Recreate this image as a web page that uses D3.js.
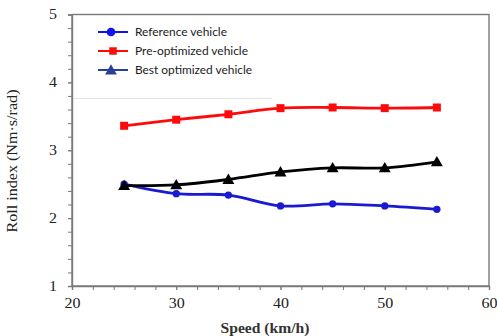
<!DOCTYPE html>
<html>
<head>
<meta charset="utf-8">
<script src="https://cdn.jsdelivr.net/npm/d3@7"></script>
<style>
  html, body { margin: 0; padding: 0; background: #fff; }
  svg { display: block; }
</style>
</head>
<body>
<script>
// Roll index against speed for three vehicle configurations
const speeds = [25, 30, 35, 40, 45, 50, 55];
const referenceVehicle = [2.50, 2.36, 2.34, 2.18, 2.21, 2.18, 2.13];
const preOptimized = [3.36, 3.45, 3.53, 3.62, 3.63, 3.62, 3.63];
const bestOptimized = [2.48, 2.49, 2.57, 2.68, 2.74, 2.74, 2.83];

const seriesNames = ["Reference vehicle", "Pre-optimized vehicle", "Best optimized vehicle"];
const xTicks = [20, 30, 40, 50, 60];
const yTicks = [1, 2, 3, 4, 5];

const W = 497, H = 336;
const svg = d3.select("body").append("svg").attr("width", W).attr("height", H);
svg.append("rect").attr("width", W).attr("height", H).attr("fill", "#fff");

const x = d3.scaleLinear().domain([20, 60]).range([72, 489]);
const y = d3.scaleLinear().domain([1, 5]).range([286, 14.5]);

const frameColor = "#7a7a7a";
const serif = "'Liberation Serif', 'Times New Roman', serif";

// plot frame
svg.append("rect")
  .attr("x", x(20)).attr("y", y(5))
  .attr("width", x(60) - x(20)).attr("height", y(1) - y(5))
  .attr("fill", "none").attr("stroke", frameColor).attr("stroke-width", 1.4);

// legend area: only its lower edge shows, as a faint rule
svg.append("line")
  .attr("x1", x(20)).attr("x2", x(20) + 200).attr("y1", y(5) + 84).attr("y2", y(5) + 84)
  .attr("stroke", "#e4e4e4").attr("stroke-width", 1);

// minor ticks
const xMinor = d3.range(20, 60.01, 2);
const yMinor = d3.range(1, 5.01, 0.2);
svg.append("g").attr("transform", `translate(0,${y(1)})`)
  .call(d3.axisBottom(x).tickValues(xMinor).tickSize(4).tickFormat(""))
  .call(g => g.select(".domain").remove())
  .call(g => g.selectAll("line").attr("stroke", frameColor));
svg.append("g").attr("transform", `translate(${x(20)},0)`)
  .call(d3.axisLeft(y).tickValues(yMinor).tickSize(4).tickFormat(""))
  .call(g => g.select(".domain").remove())
  .call(g => g.selectAll("line").attr("stroke", frameColor));

// major ticks and labels
const xAxis = svg.append("g").attr("transform", `translate(0,${y(1)})`)
  .call(d3.axisBottom(x).tickValues(xTicks).tickSize(4).tickPadding(8).tickFormat(d3.format("d")));
xAxis.select(".domain").attr("stroke", frameColor).attr("stroke-width", 1.4);
xAxis.selectAll("line").attr("stroke", frameColor);
xAxis.selectAll("text")
  .attr("font-family", serif).attr("font-size", 14).attr("fill", "#222")
  .attr("textLength", 16).attr("lengthAdjust", "spacingAndGlyphs");

const yAxis = svg.append("g").attr("transform", `translate(${x(20)},0)`)
  .call(d3.axisLeft(y).tickValues(yTicks).tickSize(4).tickPadding(11).tickFormat(d3.format("d")));
yAxis.select(".domain").attr("stroke", frameColor).attr("stroke-width", 1.4);
yAxis.selectAll("line").attr("stroke", frameColor);
yAxis.selectAll("text")
  .attr("font-family", serif).attr("font-size", 14).attr("fill", "#222")
  .attr("textLength", 8).attr("lengthAdjust", "spacingAndGlyphs");

// axis titles
svg.append("text")
  .attr("x", 265).attr("y", 333)
  .attr("text-anchor", "middle")
  .attr("font-family", serif).attr("font-size", 14).attr("font-weight", "bold")
  .attr("fill", "#333")
  .attr("textLength", 89).attr("lengthAdjust", "spacingAndGlyphs")
  .text("Speed (km/h)");

svg.append("text")
  .attr("transform", "translate(17,161) rotate(-90)")
  .attr("text-anchor", "middle")
  .attr("font-family", serif).attr("font-size", 15)
  .attr("fill", "#222")
  .attr("textLength", 143).attr("lengthAdjust", "spacingAndGlyphs")
  .text("Roll index (Nm·s/rad)");

// series
const blue = "#1a1ad2", red = "#ff0a0a", black = "#000", navy = "#2a3f9a";
const series = [
  { name: seriesNames[0], values: referenceVehicle, color: blue, marker: "circle", legendColor: "#1212ee" },
  { name: seriesNames[1], values: preOptimized, color: red, marker: "square", legendColor: red },
  { name: seriesNames[2], values: bestOptimized, color: black, marker: "triangle", legendColor: navy }
];

const symbolFor = m => m === "circle" ? d3.symbolCircle : m === "square" ? d3.symbolSquare : d3.symbolTriangle;
const sizeFor = m => m === "circle" ? 42 : m === "square" ? 64 : 62;

const line = d3.line()
  .x((d, i) => x(speeds[i]))
  .y(d => y(d))
  .curve(d3.curveCatmullRom.alpha(0.5));

series.forEach(s => {
  svg.append("path")
    .attr("d", line(s.values))
    .attr("fill", "none")
    .attr("stroke", s.color)
    .attr("stroke-width", 2.8)
    .attr("stroke-linejoin", "round");
  svg.append("g").selectAll("path")
    .data(s.values)
    .join("path")
    .attr("transform", (d, i) => `translate(${x(speeds[i])},${y(d) + (s.marker === "triangle" ? 1 : 0)})`)
    .attr("d", d3.symbol(symbolFor(s.marker), sizeFor(s.marker)))
    .attr("fill", s.color);
});

// legend entries
const legendRows = [32, 51, 70];
series.forEach((s, i) => {
  const ly = legendRows[i];
  svg.append("line")
    .attr("x1", 98).attr("x2", 128).attr("y1", ly).attr("y2", ly)
    .attr("stroke", s.legendColor).attr("stroke-width", 2);
  svg.append("path")
    .attr("transform", `translate(${s.marker === "square" ? 113 : 111},${ly + (s.marker === "triangle" ? 1 : 0)})`)
    .attr("d", d3.symbol(symbolFor(s.marker), s.marker === "circle" ? 60 : s.marker === "square" ? 56 : 60))
    .attr("fill", s.legendColor);
  svg.append("text")
    .attr("x", 135).attr("y", ly + 4)
    .attr("font-family", "Lato, 'Open Sans', sans-serif")
    .attr("font-size", 12)
    .attr("fill", "#222")
    .attr("textLength", [92, 113, 117][i]).attr("lengthAdjust", "spacingAndGlyphs")
    .text(s.name);
});
</script>
</body>
</html>
